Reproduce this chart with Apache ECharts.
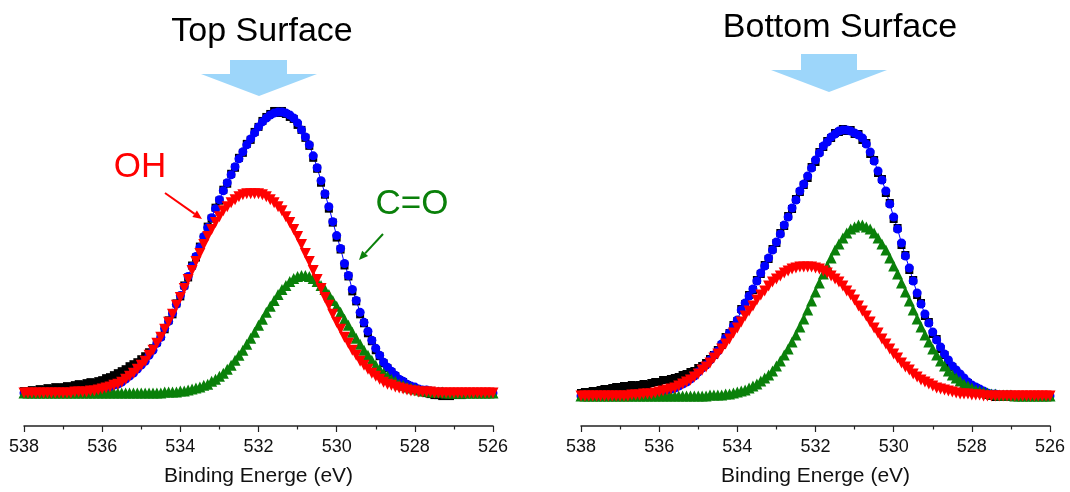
<!DOCTYPE html>
<html>
<head>
<meta charset="utf-8">
<script src="https://cdn.jsdelivr.net/npm/echarts@6/dist/echarts.min.js"></script>
<style>
  html, body { margin: 0; padding: 0; background: #fff; }
  #main { width: 1070px; height: 492px; }
</style>
</head>
<body>
<div id="main"></div>
<script>
// binding energy grid, 538 -> 526 eV, 0.1 eV step (121 points)
var energy = [];
for (var i = 0; i <= 120; i++) energy.push(Math.round((538 - i * 0.1) * 10) / 10);

var xTicks = [538, 536, 534, 532, 530, 528, 526];

// ---- Top Surface (left) ----
var rawTop = [
  35,34,36,35,37,36,38,37,39,38,
  39,40,39,41,42,41,43,44,43,45,
  46,48,49,51,53,55,57,60,62,64,
  67,70,74,78,84,90,97,106,112,123,
  130,141,149,161,169,180,189,200,208,219,
  226,237,243,253,259,269,274,283,287,295,
  300,306,310,313,316,314,316,313,310,308,
  302,297,289,281,269,258,244,232,218,204,
  189,177,161,150,135,125,112,103,93,85,
  76,70,63,58,54,50,46,44,41,39,
  37,36,34,33,32,31,31,30,31,30,
  31,32,31,32,33,32,33,32,33,33,33
];
var fitTop = [
  33,33,33,33,33,33,33,33,33,33,
  33,33,33,34,34,34,34,35,35,36,
  37,38,39,41,42,44,47,50,53,57,
  61,65,71,76,83,89,98,105,113,122,
  131,140,150,160,170,179,190,199,209,218,
  227,236,244,252,260,268,275,282,288,294,
  300,305,309,312,314,315,315,314,312,309,
  304,297,290,282,271,259,246,233,220,205,
  191,178,163,151,137,126,114,104,95,86,
  78,71,64,59,55,51,47,45,42,40,
  39,37,36,36,35,34,34,34,33,33,
  33,33,33,33,33,33,33,33,33,33,33
];
var coTop = [
  33,33,33,33,33,33,33,33,33,33,
  33,33,33,33,33,33,33,33,33,33,
  33,33,33,33,33,33,33,33,33,33,
  33,33,33,33,33,33,34,34,34,34,
  35,35,36,37,38,39,41,42,45,47,
  50,53,57,61,66,71,76,82,88,94,
  101,107,114,120,126,132,137,141,145,148,
  150,151,151,150,148,145,141,137,132,126,
  120,114,107,101,94,88,82,76,71,66,
  61,57,53,50,47,45,42,41,39,38,
  37,36,35,35,34,34,34,34,33,33,
  33,33,33,33,33,33,33,33,33,33,33
];
var ohTop = [
  33,33,33,33,33,33,33,33,33,33,
  33,33,33,34,34,34,34,35,35,36,
  37,38,39,41,42,44,47,50,53,57,
  61,65,71,76,83,89,97,104,112,121,
  129,138,147,156,165,173,182,190,197,204,
  210,216,220,224,227,230,232,233,233,233,
  233,232,230,227,224,220,216,210,204,197,
  190,182,173,165,156,147,138,129,121,112,
  104,97,89,83,76,71,65,61,57,53,
  50,47,44,42,41,39,38,37,36,35,
  35,34,34,34,34,33,33,33,33,33,
  33,33,33,33,33,33,33,33,33,33,33
];

// ---- Bottom Surface (right) ----
var rawBottom = [
  33,34,34,35,35,36,37,37,38,39,
  38,40,39,41,40,41,42,41,43,44,
  44,46,46,47,48,49,51,52,54,55,
  58,60,63,67,71,76,81,89,93,101,
  105,117,122,131,136,146,152,161,167,177,
  183,193,200,210,217,227,234,241,248,259,
  264,274,279,285,288,293,294,297,295,296,
  292,292,286,283,272,266,253,247,233,223,
  207,198,181,171,156,146,131,123,110,104,
  92,87,77,71,62,59,53,50,46,43,
  39,38,35,33,31,30,29,29,30,29,
  30,29,30,30,29,30,30,29,30,30,30
];
var fitBottom = [
  30,30,30,30,30,30,30,30,30,30,
  30,30,30,31,31,31,32,32,32,33,
  34,35,36,37,38,40,42,44,47,50,
  54,58,61,66,71,75,82,88,93,100,
  106,116,123,130,137,145,153,160,168,176,
  184,192,201,209,218,226,235,242,250,258,
  266,273,280,284,289,292,295,296,296,295,
  293,291,288,282,274,265,255,246,235,222,
  209,197,183,170,158,145,133,122,112,103,
  94,86,79,72,66,60,56,52,48,44,
  41,39,37,35,33,32,32,31,31,31,
  31,30,30,30,30,30,30,30,30,30,30
];
var coBottom = [
  30,30,30,30,30,30,30,30,30,30,
  30,30,30,30,30,30,30,30,30,30,
  30,30,30,30,30,30,30,30,30,30,
  30,30,30,31,31,31,31,32,32,33,
  34,35,36,38,40,42,45,48,51,55,
  60,65,71,77,84,91,99,107,116,125,
  134,143,152,160,168,176,182,188,193,197,
  199,201,201,199,197,193,188,182,176,168,
  160,152,143,134,125,116,107,99,91,84,
  77,71,65,60,55,51,48,45,42,40,
  38,36,35,34,33,32,32,31,31,31,
  31,30,30,30,30,30,30,30,30,30,30
];
var ohBottom = [
  30,30,30,30,30,30,30,30,30,30,
  30,30,30,31,31,31,32,32,32,33,
  34,35,36,37,38,40,42,44,46,49,
  52,56,59,63,68,72,77,82,87,93,
  98,104,110,115,120,126,131,135,140,144,
  147,150,153,155,157,158,159,159,159,159,
  158,157,155,153,150,147,144,140,135,131,
  126,120,115,110,104,98,93,87,82,77,
  72,68,63,59,56,52,49,46,44,42,
  40,38,37,36,35,34,33,32,32,32,
  31,31,31,30,30,30,30,30,30,30,
  30,30,30,30,30,30,30,30,30,30,30
];

var FONT = 'Liberation Sans, Arial, sans-serif';

function pairs(vals) {
  return vals.map(function (v, i) { return [energy[i], v]; });
}

function mk(vals, symbol, color, size, idx, rotate, lineW) {
  return {
    type: 'line',
    xAxisIndex: idx,
    yAxisIndex: idx,
    data: pairs(vals),
    symbol: symbol,
    symbolSize: size,
    symbolRotate: rotate || 0,
    showAllSymbol: true,
    itemStyle: { color: color },
    lineStyle: { color: color, width: lineW },
    silent: true
  };
}

function xAx(idx) {
  return {
    type: 'value',
    gridIndex: idx,
    min: 526,
    max: 538,
    interval: 2,
    inverse: true,
    axisLine: { lineStyle: { color: '#222', width: 1.5 } },
    axisTick: { length: 6, lineStyle: { color: '#222', width: 1.2 } },
    minorTick: { show: true, splitNumber: 2, length: 3.5, lineStyle: { color: '#222', width: 1.2 } },
    splitLine: { show: false },
    axisLabel: { fontSize: 18, color: '#111', margin: 12, fontFamily: FONT },
    name: 'Binding Energe (eV)',
    nameLocation: 'middle',
    nameGap: 40,
    nameTextStyle: { fontSize: 21, color: '#111', fontFamily: FONT }
  };
}

// block arrow helper (stem + head)
function blockArrow(x1, x2, yTop, yHead, hx1, hx2, tipX, tipY) {
  return {
    type: 'polygon',
    shape: { points: [[x1, yTop], [x2, yTop], [x2, yHead], [hx2, yHead], [tipX, tipY], [hx1, yHead], [x1, yHead]] },
    style: { fill: '#9dd6fa' }
  };
}

// thin annotation arrow helper
function thinArrow(x1, y1, x2, y2, color) {
  var dx = x2 - x1, dy = y2 - y1, len = Math.sqrt(dx * dx + dy * dy);
  var ux = dx / len, uy = dy / len, hl = 9, hw = 4;
  var bx = x2 - ux * hl, by = y2 - uy * hl;
  return [
    { type: 'line', shape: { x1: x1, y1: y1, x2: bx, y2: by }, style: { stroke: color, lineWidth: 2 } },
    { type: 'polygon', shape: { points: [[x2, y2], [bx - uy * hw, by + ux * hw], [bx + uy * hw, by - ux * hw]] }, style: { fill: color } }
  ];
}

var graphics = [
  { type: 'text', x: 262, y: 32, style: { text: 'Top Surface', font: '34px ' + FONT, fill: '#000', align: 'center', verticalAlign: 'middle' } },
  { type: 'text', x: 840, y: 28, style: { text: 'Bottom Surface', font: '34px ' + FONT, fill: '#000', align: 'center', verticalAlign: 'middle' } },
  blockArrow(230, 287, 60, 74, 201, 317, 259, 96),
  blockArrow(801, 857, 54, 70, 771, 887, 829, 92),
  { type: 'text', x: 140, y: 167, style: { text: 'OH', font: '35px ' + FONT, fill: '#ff0000', align: 'center', verticalAlign: 'middle' } },
  { type: 'text', x: 412, y: 204, style: { text: 'C=O', font: '35px ' + FONT, fill: '#0a800a', align: 'center', verticalAlign: 'middle' } }
].concat(thinArrow(165, 193, 202, 219, '#ff0000'))
 .concat(thinArrow(383, 234, 359, 260, '#0a800a'));

var chart = echarts.init(document.getElementById('main'), null, { renderer: 'canvas' });
chart.setOption({
  animation: false,
  backgroundColor: '#fff',
  grid: [
    { left: 24, width: 469, top: 100, bottom: 65 },
    { left: 581, width: 469, top: 100, bottom: 66 }
  ],
  xAxis: [xAx(0), xAx(1)],
  yAxis: [
    { type: 'value', gridIndex: 0, min: 0, max: 327, show: false },
    { type: 'value', gridIndex: 1, min: 0, max: 326, show: false }
  ],
  series: [
    mk(rawTop, 'rect', '#000', 8, 0, 0, 0),
    mk(fitTop, 'circle', '#0000ff', 9, 0, 0, 1),
    mk(coTop, 'triangle', '#0a800a', 11, 0, 0, 1),
    mk(ohTop, 'triangle', '#ff0000', 11, 0, 180, 1),
    mk(rawBottom, 'rect', '#000', 8, 1, 0, 0),
    mk(fitBottom, 'circle', '#0000ff', 9, 1, 0, 1),
    mk(coBottom, 'triangle', '#0a800a', 11, 1, 0, 1),
    mk(ohBottom, 'triangle', '#ff0000', 11, 1, 180, 1)
  ],
  graphic: graphics
});
</script>
</body>
</html>
